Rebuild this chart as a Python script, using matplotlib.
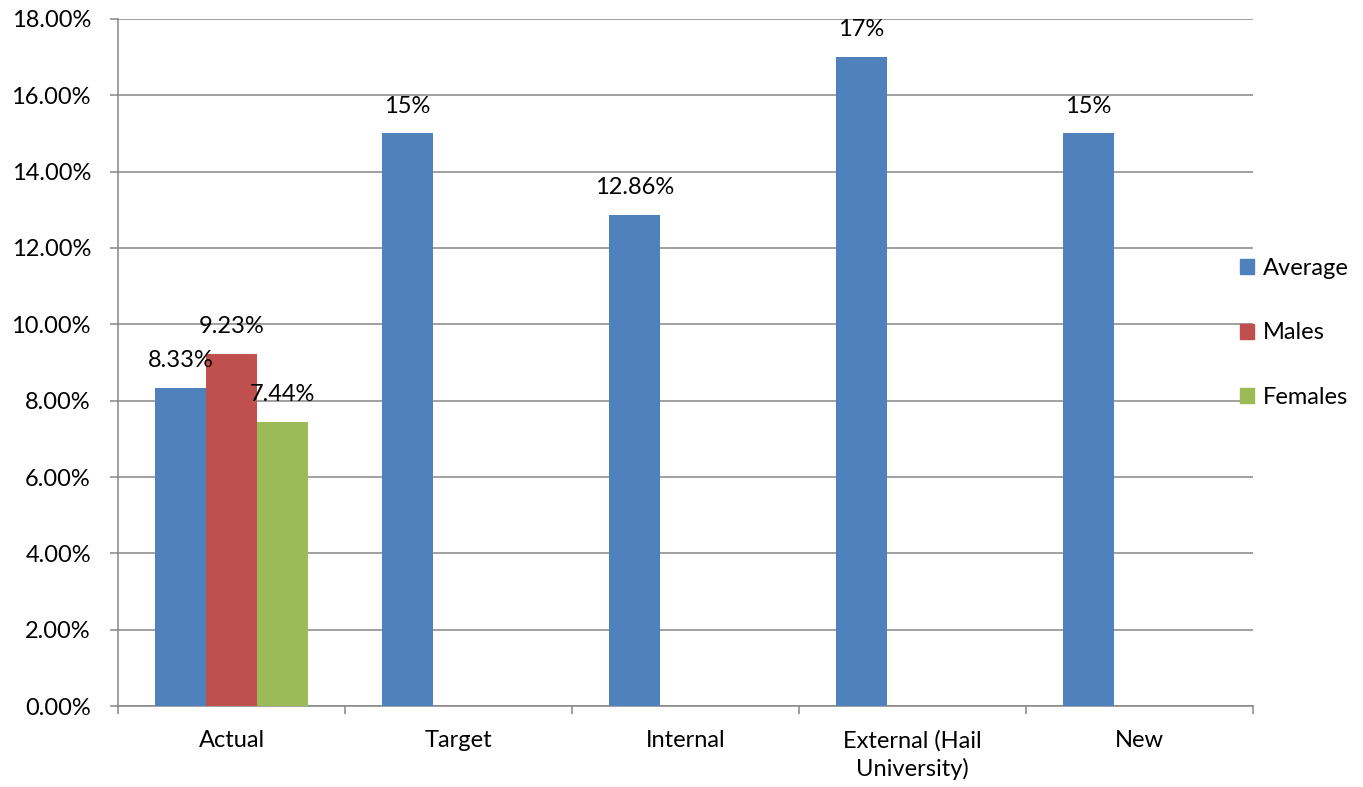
import numpy as np
import matplotlib.pyplot as plt
from matplotlib.patches import Patch
from matplotlib.ticker import FuncFormatter, FixedLocator

plt.rcParams['font.family'] = ['Lato', 'DejaVu Sans']

categories = ["Actual", "Target", "Internal", "External (Hail\nUniversity)", "New"]
average = [8.33, 15, 12.86, 17, 15]
males = [9.23]
females = [7.44]
avg_labels = ["8.33%", "15%", "12.86%", "17%", "15%"]
male_labels = ["9.23%"]
female_labels = ["7.44%"]

c_avg = '#4F81BD'
c_male = '#C0504D'
c_fem = '#9BBB59'
grid_c = '#868686'

fig = plt.figure(figsize=(13.63, 7.87), dpi=100)
ax = fig.add_axes([0.0866, 0.1029, 0.8327, 0.873])

x = np.arange(len(categories))
w = 0.225
fs = 17

ax.bar(x - w, average, w, color=c_avg, zorder=3)
ax.bar(x[:1], males, w, color=c_male, zorder=3)
ax.bar(x[:1] + w, females, w, color=c_fem, zorder=3)

def label(xs, vals, texts):
    for xi, v, t in zip(xs, vals, texts):
        ax.annotate(t, (xi, v), xytext=(0, 12), textcoords='offset points',
                    ha='center', va='bottom', fontsize=fs, zorder=4)

label(x - w, average, avg_labels)
label(x[:1], males, male_labels)
label(x[:1] + w, females, female_labels)

ax.set_xlim(-0.5, len(categories) - 0.5)
ax.set_ylim(0, 18)
ax.yaxis.set_major_locator(FixedLocator(np.arange(0, 18.01, 2)))
ax.yaxis.set_major_formatter(FuncFormatter(lambda v, p: f"{v:.2f}%"))
ax.grid(axis='y', color=grid_c, linewidth=1.1, zorder=0)

ax.set_xticks(np.arange(-0.5, len(categories)), labels=[])
ax.set_xticks(x, labels=categories, minor=True)
for t in ax.get_xticklabels(minor=True):
    t.set_linespacing(1.35)
ax.tick_params(axis='x', which='major', length=6, width=1.1, color=grid_c, direction='out')
ax.tick_params(axis='x', which='minor', length=0, labelsize=fs, pad=17)
ax.tick_params(axis='y', length=5.5, width=1.1, color=grid_c, labelsize=fs, pad=14)

for s in ['top', 'right']:
    ax.spines[s].set_visible(False)
for s in ['left', 'bottom']:
    ax.spines[s].set_color(grid_c)
    ax.spines[s].set_linewidth(1.1)

handles = [Patch(color=c_avg, label='Average'),
           Patch(color=c_male, label='Males'),
           Patch(color=c_fem, label='Females')]
fig.legend(handles=handles, loc='center left', bbox_to_anchor=(0.903, 0.577),
           frameon=False, fontsize=fs, handlelength=0.6, handleheight=0.6,
           handletextpad=0.34, labelspacing=1.85, borderaxespad=0)

fig.savefig('out.png', dpi=100)
